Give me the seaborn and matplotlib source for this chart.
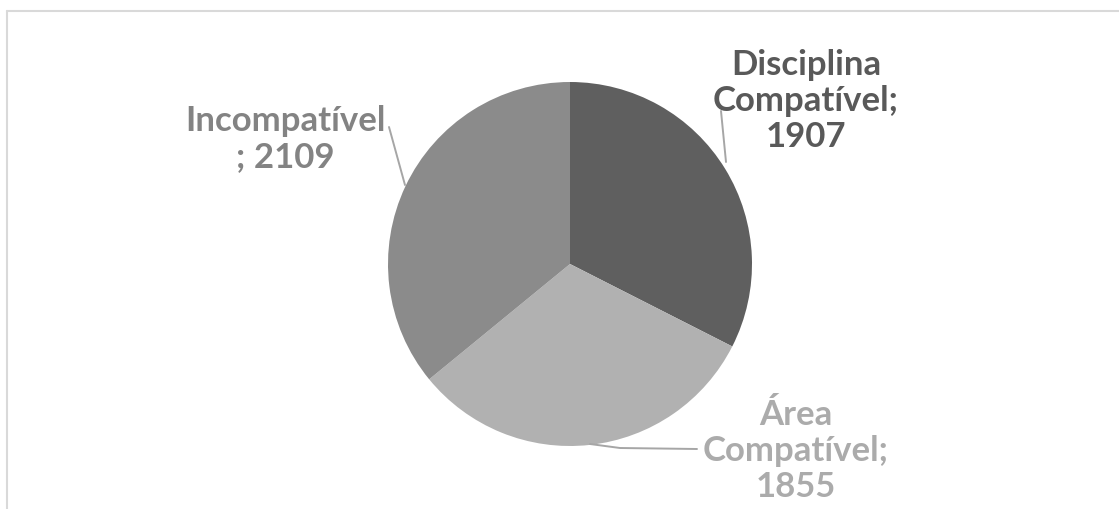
import matplotlib
matplotlib.use("Agg")
import matplotlib.pyplot as plt
import seaborn as sns

categories = ["Disciplina Compatível", "Área Compatível", "Incompatível"]
values = [1907, 1855, 2109]
label_texts = ["Disciplina\nCompatível;\n1907", "Área\nCompatível;\n1855", "Incompatível\n; 2109"]
slice_colors = ["#5f5f5f", "#b1b1b1", "#8b8b8b"]
text_colors = ["#595959", "#ababab", "#838383"]

sns.set_theme(style="white")
plt.rcParams["font.family"] = ["Lato", "DejaVu Sans"]

W, H = 1119, 510
fig = plt.figure(figsize=(W / 100, H / 100), dpi=100)
ax = fig.add_axes([0, 0, 1, 1])

cx, cy, r = 570, H - 265, 182
wedges, _ = ax.pie(values, center=(cx, cy), radius=r, startangle=90,
                   counterclock=False, colors=slice_colors,
                   wedgeprops=dict(linewidth=0))

ax.set_xlim(0, W)
ax.set_ylim(0, H)
ax.set_aspect("equal")
ax.axis("off")

# chart border (Excel chart area)
ax.plot([7, W], [H - 12, H - 12], color="#d9d9d9", lw=1.5, clip_on=False)
ax.plot([7, 7], [H - 12, 0], color="#d9d9d9", lw=1.5, clip_on=False)

# label positions (pixel coords, y from top) and leader lines
label_pos = [(806, 101), (796, 451), (285, 139)]
leaders = [
    [(721, 112), (726, 163)],
    [(590, 445), (620, 449), (697, 450)],
    [(389, 128), (405, 186)],
]
for txt, col, (lx, ly), pts in zip(label_texts, text_colors, label_pos, leaders):
    ax.text(lx, H - ly, txt, ha="center", va="center", multialignment="center",
            fontsize=25, fontweight="bold", color=col, linespacing=1.17)
    xs = [p[0] for p in pts]
    ys = [H - p[1] for p in pts]
    ax.plot(xs, ys, color="#a6a6a6", lw=1.4)

fig.savefig("out.png", dpi=100)
